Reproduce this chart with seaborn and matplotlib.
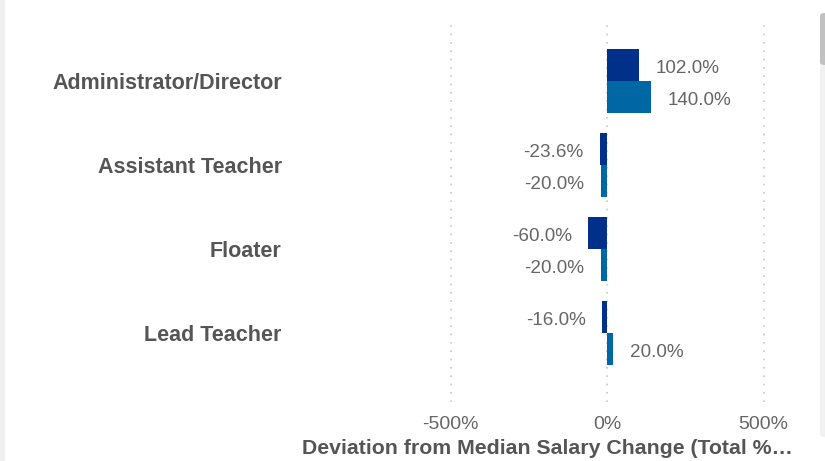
import matplotlib.pyplot as plt
import numpy as np
import pandas as pd
import seaborn as sns
from matplotlib.patches import FancyBboxPatch, Rectangle

roles = ['Administrator/Director', 'Assistant Teacher', 'Floater', 'Lead Teacher']
series_names = ['Series 1', 'Series 2']
dev_first = [102.0, -23.6, -60.0, -16.0]
dev_second = [140.0, -20.0, -20.0, 20.0]
tick_values = [-500, 0, 500]
tick_labels = ['-500%', '0%', '500%']
colors = ['#00308a', '#0067a5']

df = pd.DataFrame({
    'role': roles * 2,
    'series': [series_names[0]] * len(roles) + [series_names[1]] * len(roles),
    'deviation': dev_first + dev_second,
})

sns.set_style('white')
plt.rcParams['font.family'] = ['Liberation Sans', 'DejaVu Sans']

W, H = 825, 461
fig = plt.figure(figsize=(W / 100, H / 100), dpi=100)
ax_left, ax_right, ax_top, ax_bottom = 295, 800, 22, 402
ax = fig.add_axes([ax_left / W, 1 - ax_bottom / H, (ax_right - ax_left) / W, (ax_bottom - ax_top) / H])

sns.barplot(data=df, y='role', x='deviation', hue='series', orient='h',
            palette=colors, width=0.762, saturation=1, legend=False,
            linewidth=0, ax=ax)

# x scale: 0 at 607px, 500 at 763.5px
px_per_unit = (763.5 - 607) / 500
ax.set_xlim(-500 - (451 - ax_left) / px_per_unit, 500 + (ax_right - 763.5) / px_per_unit)
ax.set_ylim(3.82, -0.70)

ax.set_xticks(tick_values, tick_labels)
ax.xaxis.grid(True, linestyle=(0, (1, 4)), color='#c8c8c8', linewidth=1.2)
ax.yaxis.grid(False)
ax.set_axisbelow(True)
for s in ax.spines.values():
    s.set_visible(False)

ax.tick_params(axis='x', length=0, pad=10, labelsize=14, labelcolor='#666666')
ax.tick_params(axis='y', length=0, pad=9.5, labelsize=15.5, labelcolor='#555555')
for lbl in ax.get_yticklabels():
    lbl.set_fontweight('bold')
ax.set_xlabel('')
ax.set_ylabel('')

for cont in ax.containers:
    texts = ax.bar_label(cont, fmt=lambda v: f'{v:.1f}%', padding=12, fontsize=13.6, color='#666666')
    for t in texts:
        # nudge labels down a little, like the original rendering
        t.xyann = (t.xyann[0], t.xyann[1] - 2.5)

fig.text(302 / W, 1 - 448 / H, 'Deviation from Median Salary Change (Total %\u2026',
         ha='left', va='center', fontsize=15.3, fontweight='bold', color='#555555')

# page chrome: left border strip and scrollbar on the right
fig.patches.append(Rectangle((0, 0), 5 / W, 1, transform=fig.transFigure,
                             facecolor='#f0f0f0', edgecolor='none'))
fig.patches.append(FancyBboxPatch((820 / W, 1 - 437 / H), 10 / W, 424 / H,
                                  boxstyle='round,pad=0,rounding_size=0.006',
                                  transform=fig.transFigure, facecolor='#f1f1f1', edgecolor='none'))
fig.patches.append(FancyBboxPatch((820 / W, 1 - 65 / H), 10 / W, 52 / H,
                                  boxstyle='round,pad=0,rounding_size=0.006',
                                  transform=fig.transFigure, facecolor='#c1c1c1', edgecolor='none'))

fig.savefig('out.png', dpi=100)
